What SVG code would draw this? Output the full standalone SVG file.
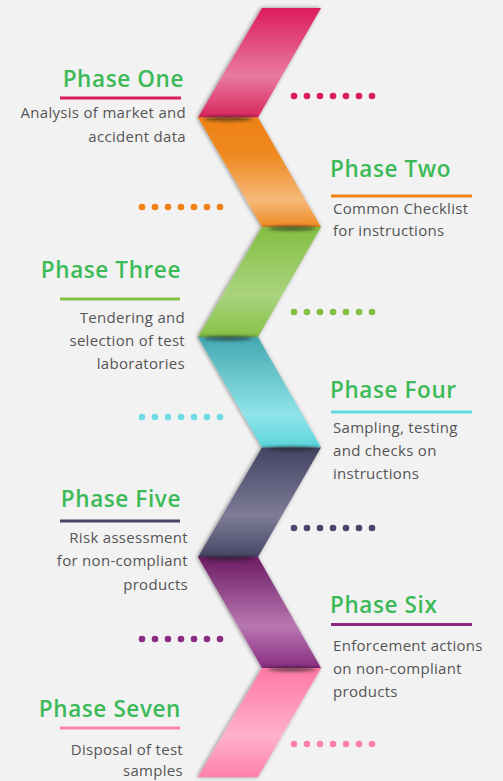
<svg xmlns="http://www.w3.org/2000/svg" width="503" height="781" viewBox="0 0 503 781">
<style>
.title{font-family:"Open Sans","DejaVu Sans",sans-serif;font-size:22.5px;font-weight:600;fill:#3cba57;letter-spacing:0.6px}
.desc{font-family:"Open Sans","DejaVu Sans",sans-serif;font-size:15px;fill:#555555;letter-spacing:0.3px}
.r{text-anchor:end}
.joint{stroke:url(#jl);stroke-width:1.2}
</style>
<defs>
<filter id="sh" x="-20%" y="-5%" width="140%" height="110%"><feGaussianBlur in="SourceAlpha" stdDeviation="2"/><feOffset dx="-1" dy="0"/><feComponentTransfer><feFuncA type="linear" slope="0.45"/></feComponentTransfer><feMerge><feMergeNode/><feMergeNode in="SourceGraphic"/></feMerge></filter>
<filter id="bl" x="-30%" y="-200%" width="160%" height="500%"><feGaussianBlur stdDeviation="2 1.5"/></filter>
<linearGradient id="jl" x1="0" x2="1" y1="0" y2="0"><stop offset="0" stop-color="#555" stop-opacity="0"/><stop offset="0.2" stop-color="#555" stop-opacity="0.8"/><stop offset="0.8" stop-color="#555" stop-opacity="0.8"/><stop offset="1" stop-color="#555" stop-opacity="0"/></linearGradient>
<linearGradient id="g1" x1="0" x2="0" y1="0" y2="1"><stop offset="0" stop-color="#dc1d5b"/><stop offset="0.62" stop-color="#e97a9f"/><stop offset="1" stop-color="#d9265e"/></linearGradient>
<linearGradient id="g2" x1="0" x2="0" y1="0" y2="1"><stop offset="0" stop-color="#ee8115"/><stop offset="0.35" stop-color="#f08a22"/><stop offset="0.75" stop-color="#f6b97a"/><stop offset="1" stop-color="#ef8c24"/></linearGradient>
<linearGradient id="g3" x1="0" x2="0" y1="0" y2="1"><stop offset="0" stop-color="#82bf42"/><stop offset="0.62" stop-color="#aad37e"/><stop offset="1" stop-color="#86c146"/></linearGradient>
<linearGradient id="g4" x1="0" x2="0" y1="0" y2="1"><stop offset="0" stop-color="#45a8b0"/><stop offset="0.7" stop-color="#8fe4e9"/><stop offset="1" stop-color="#5ad5dc"/></linearGradient>
<linearGradient id="g5" x1="0" x2="0" y1="0" y2="1"><stop offset="0" stop-color="#444363"/><stop offset="0.62" stop-color="#7d7b97"/><stop offset="1" stop-color="#484766"/></linearGradient>
<linearGradient id="g6" x1="0" x2="0" y1="0" y2="1"><stop offset="0" stop-color="#6c1c62"/><stop offset="0.62" stop-color="#b777b2"/><stop offset="1" stop-color="#8a2c80"/></linearGradient>
<linearGradient id="g7" x1="0" x2="0" y1="0" y2="1"><stop offset="0" stop-color="#ff78a4"/><stop offset="0.62" stop-color="#ffb1cb"/><stop offset="1" stop-color="#ff80a9"/></linearGradient>
<g id="dots"><circle cx="0" cy="0" r="3.3"/><circle cx="13" cy="0" r="3.3"/><circle cx="26" cy="0" r="3.3"/><circle cx="39" cy="0" r="3.3"/><circle cx="52" cy="0" r="3.3"/><circle cx="65" cy="0" r="3.3"/><circle cx="78" cy="0" r="3.3"/></g>
</defs>
<rect width="503" height="781" fill="#f2f2f2"/>

<g id="phase1">
<path d="M262,8 L321,8 L258,117.5 L198,117.5 Z" fill="url(#g1)" filter="url(#sh)"/>
<use href="#dots" x="294" y="96" fill="#dc1d5b"/>
<text class="title r" x="184" y="87">Phase One</text>
<rect x="60" y="96.5" width="121" height="3" fill="#dc1d5b"/>
<text class="desc r" x="186" y="118">Analysis of market and</text>
<text class="desc r" x="186" y="142">accident data</text>
</g>

<g id="phase2">
<path d="M198,117.5 L258,117.5 L321,227 L262,227 Z" fill="url(#g2)" filter="url(#sh)"/>
<use href="#dots" x="142" y="207" fill="#ef8115"/>
<text class="title" x="330" y="177">Phase Two</text>
<rect x="331" y="194.5" width="141" height="3" fill="#ef8115"/>
<text class="desc" x="333" y="214">Common Checklist</text>
<text class="desc" x="333" y="236">for instructions</text>
</g>

<g id="phase3">
<path d="M262,227 L321,227 L258,337 L198,337 Z" fill="url(#g3)" filter="url(#sh)"/>
<use href="#dots" x="294" y="312" fill="#82bf42"/>
<text class="title r" x="181" y="278">Phase Three</text>
<rect x="60" y="297.5" width="120" height="3" fill="#82bf42"/>
<text class="desc r" x="185" y="323">Tendering and</text>
<text class="desc r" x="185" y="346">selection of test</text>
<text class="desc r" x="185" y="369">laboratories</text>
</g>

<g id="phase4">
<path d="M198,337 L258,337 L321,447.5 L262,447.5 Z" fill="url(#g4)" filter="url(#sh)"/>
<use href="#dots" x="142" y="417" fill="#6fdbe2"/>
<text class="title" x="330" y="398">Phase Four</text>
<rect x="331" y="410.5" width="141" height="3" fill="#62d8df"/>
<text class="desc" x="333" y="433">Sampling, testing</text>
<text class="desc" x="333" y="456">and checks on</text>
<text class="desc" x="333" y="479">instructions</text>
</g>

<g id="phase5">
<path d="M262,447.5 L321,447.5 L258,557 L198,557 Z" fill="url(#g5)" filter="url(#sh)"/>
<use href="#dots" x="294" y="528" fill="#46456a"/>
<text class="title r" x="181" y="507">Phase Five</text>
<rect x="60" y="519.5" width="120" height="3" fill="#46456a"/>
<text class="desc r" x="188" y="543">Risk assessment</text>
<text class="desc r" x="188" y="566">for non-compliant</text>
<text class="desc r" x="188" y="590">products</text>
</g>

<g id="phase6">
<path d="M198,557 L258,557 L321,668 L262,668 Z" fill="url(#g6)" filter="url(#sh)"/>
<use href="#dots" x="142" y="639" fill="#8a2a80"/>
<text class="title" x="330" y="613">Phase Six</text>
<rect x="331" y="623" width="141" height="3" fill="#8a2a80"/>
<text class="desc" x="333" y="651">Enforcement actions</text>
<text class="desc" x="333" y="674">on non-compliant</text>
<text class="desc" x="333" y="697">products</text>
</g>

<g id="phase7">
<path d="M262,668 L321,668 L258,777 L198,777 Z" fill="url(#g7)" filter="url(#sh)"/>
<use href="#dots" x="294" y="744" fill="#ff80a9"/>
<text class="title r" x="181" y="717">Phase Seven</text>
<rect x="60" y="726.5" width="120" height="3" fill="#ff80a9"/>
<text class="desc r" x="183" y="755">Disposal of test</text>
<text class="desc r" x="183" y="776">samples</text>
</g>

<g id="joints">
<line class="joint" x1="250" y1="8" x2="333" y2="8"/>
<line class="joint" x1="186" y1="117.5" x2="270" y2="117.5"/>
<line class="joint" x1="250" y1="227" x2="333" y2="227"/>
<line class="joint" x1="186" y1="337" x2="270" y2="337"/>
<line class="joint" x1="250" y1="447.5" x2="333" y2="447.5"/>
<line class="joint" x1="186" y1="557" x2="270" y2="557"/>
<line class="joint" x1="250" y1="668" x2="333" y2="668"/>
<line class="joint" x1="186" y1="777" x2="270" y2="777"/>
<g fill="#222" opacity="0.55" filter="url(#bl)">
<ellipse cx="228" cy="119" rx="24" ry="2.5"/>
<ellipse cx="292" cy="228.5" rx="24" ry="2.5"/>
<ellipse cx="228" cy="338.5" rx="24" ry="2.5"/>
<ellipse cx="292" cy="449" rx="24" ry="2.5"/>
<ellipse cx="228" cy="558.5" rx="24" ry="2.5"/>
<ellipse cx="292" cy="669.5" rx="24" ry="2.5"/>
</g>
</g>
</svg>
